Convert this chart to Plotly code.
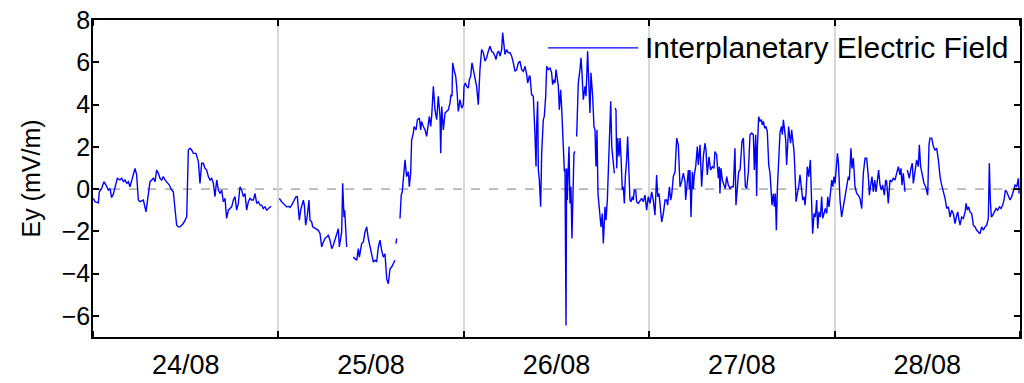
import plotly.graph_objects as go

# Hours since 24/08 00:00 and the dawn-dusk interplanetary electric field Ey (mV/m).
# None marks a data gap.
HOURS = [
    0.04, 0.26, 0.69, 0.82, 1.12, 1.42, 1.68, 1.98, 2.2, 2.41, 2.63, 2.98, 3.15, 3.49, 3.71, 3.93,
    4.14, 4.36, 4.57, 4.79, 5.0, 5.22, 5.44, 5.65, 5.87, 6.08, 6.52, 6.86, 7.16, 7.38, 7.6, 7.81,
    8.03, 8.24, 8.46, 8.67, 8.89, 9.1, 9.32, 9.62, 9.88, 10.18, 10.4, 10.61, 10.83, 11.05, 11.26,
    11.69, 12.13, 12.34, 12.56, 12.77, 12.99, 13.33, 13.51, 13.64, 13.85, 14.07, 14.28, 14.5,
    14.72, 14.93, 15.15, 15.36, 15.58, 15.79, 16.01, 16.23, 16.44, 16.66, 16.87, 17.09, 17.3,
    17.52, 17.73, 17.95, 18.17, 18.38, 18.6, 18.81, 19.03, 19.25, 19.46, 19.68, 19.89, 20.11,
    20.32, 20.54, 20.76, 20.97, 21.19, 21.4, 21.62, 21.83, 22.05, 22.27, 22.48, 22.7, 22.91, 23.04,
    23.5,
    24.12, 24.42, 24.85, 25.07, 25.28, 25.5, 25.72, 25.93, 26.28, 26.45, 26.71, 26.88, 27.1, 27.23,
    27.36, 27.53, 27.75, 27.96, 28.09, 28.31, 28.44, 28.74, 29.17, 29.39, 29.6, 29.82, 30.03,
    30.25, 30.46, 30.68, 30.9, 31.11, 31.33, 31.54, 31.76, 31.89, 32.06, 32.19, 32.32, 32.49,
    32.58, 32.75, 32.84,
    33.3,
    33.7, 33.92, 34.14, 34.35, 34.48, 34.78, 35.0, 35.21, 35.43, 35.64, 35.86, 36.08, 36.29,
    36.51, 36.72, 36.94, 37.15, 37.37, 37.58, 37.8, 38.02, 38.23, 38.45, 38.66, 38.88, 39.09,
    39.15,
    39.22, 39.31,
    39.5,
    39.74, 39.9, 40.03, 40.21, 40.39, 40.6, 40.82, 40.95, 41.12, 41.25, 41.47, 41.56, 41.82,
    41.99, 42.25, 42.42, 42.54, 42.76, 42.98, 43.19, 43.41, 43.54, 43.71, 43.84, 44.06, 44.27,
    44.49, 44.7, 44.92, 45.01, 45.14, 45.35, 45.57, 45.78, 46.0, 46.21, 46.34, 46.47, 46.56,
    46.73, 46.95, 47.08, 47.29, 47.51, 47.72, 47.94, 48.03, 48.2, 48.37, 48.59, 48.72, 48.89,
    49.06, 49.23, 49.45, 49.66, 49.88, 50.09, 50.31, 50.53, 50.74, 50.96, 51.17, 51.39, 51.6,
    51.82, 52.04, 52.16, 52.34, 52.51, 52.69, 52.9, 53.03, 53.2, 53.33, 53.55, 53.76, 53.98,
    54.2, 54.41, 54.63, 54.84, 55.06, 55.27, 55.49, 55.71, 55.92, 56.14, 56.27, 56.48,
    56.57, 56.78, 57.0, 57.22, 57.35, 57.43, 57.56, 57.65, 57.78, 57.95, 58.08, 58.29, 58.42,
    58.6, 58.73, 58.94, 59.16, 59.37, 59.5, 59.68, 59.81, 59.94, 60.11, 60.24, 60.37, 60.54,
    60.67, 60.89, 61.02, 61.1, 61.23, 61.31, 61.4, 61.53, 61.62, 61.74, 61.87, 62.0, 62.13,
    62.26, 62.39,
    62.5,
    62.61, 62.82, 63.04, 63.17, 63.3, 63.47, 63.69, 63.82, 64.03, 64.16, 64.33, 64.46, 64.68,
    64.85, 64.98, 65.11, 65.24, 65.37, 65.5, 65.63, 65.76, 65.93, 66.06, 66.28, 66.41, 66.58,
    66.71, 66.84, 67.02, 67.15, 67.36, 67.49,
    67.55,
    67.58, 67.7, 67.79, 67.92, 68.09, 68.22, 68.35, 68.52, 68.65, 68.78, 68.91, 69.08, 69.21,
    69.39, 69.51, 69.64, 69.82, 69.94, 70.07, 70.25, 70.37, 70.59, 70.81, 71.02, 71.24, 71.45,
    71.67, 71.88, 72.1, 72.32, 72.53, 72.75, 72.96,
    73.1, 73.27, 73.49, 73.62, 73.83, 74.05, 74.26, 74.39, 74.61, 74.78, 74.91, 75.12, 75.34,
    75.56, 75.77, 75.99, 76.2, 76.42, 76.63, 76.72, 76.85, 77.07, 77.2, 77.28, 77.41, 77.59,
    77.71, 77.84, 78.02, 78.23, 78.36, 78.58, 78.79, 79.01, 79.22, 79.35, 79.52, 79.74, 79.95,
    80.17, 80.38, 80.51, 80.73, 80.95, 81.08, 81.16, 81.29, 81.47, 81.68, 81.85, 82.03, 82.24,
    82.46, 82.67, 82.89, 83.1, 83.23, 83.41, 83.58, 83.76, 83.89, 84.01, 84.19, 84.32, 84.45,
    84.62, 84.84, 85.05, 85.27, 85.48, 85.61, 85.79, 85.91, 86.0, 86.17, 86.35, 86.52, 86.65,
    86.78, 86.95, 87.12, 87.29, 87.47, 87.64, 87.77, 87.9, 88.07, 88.2, 88.33, 88.46, 88.59,
    88.76, 88.93, 89.11, 89.24, 89.37, 89.54, 89.67, 89.79, 89.92, 90.05, 90.18, 90.31, 90.44,
    90.57, 90.75, 90.88, 91.01, 91.18, 91.35, 91.52, 91.69, 91.87, 92.04, 92.17, 92.3, 92.47,
    92.65, 92.86, 92.99, 93.16, 93.34, 93.51, 93.68, 93.81, 93.98, 94.16, 94.33, 94.46, 94.63,
    94.8, 94.98, 95.11, 95.28, 95.41, 95.63, 95.76, 95.93, 96.06, 96.19, 96.37, 96.5,
    96.7, 96.91, 97.13, 97.35, 97.56, 97.78, 97.91, 98.12, 98.25, 98.43, 98.64, 98.86, 99.08,
    99.29, 99.51, 99.72, 99.94, 100.15, 100.37, 100.5, 100.67, 100.84, 101.01, 101.19, 101.36,
    101.53, 101.7, 101.88, 102.05, 102.22, 102.44, 102.61, 102.74, 102.95, 103.17, 103.39,
    103.6, 103.82, 104.03, 104.25, 104.46, 104.59, 104.72, 104.89, 105.11,
    105.3,
    105.41, 105.67, 105.88, 106.06, 106.19, 106.41, 106.62, 106.84, 106.97, 107.14, 107.31,
    107.57, 107.79, 108.05, 108.22, 108.35, 108.57, 108.79, 109.0, 109.22, 109.43, 109.65,
    109.86, 110.08, 110.3, 110.51, 110.73, 110.94, 111.16, 111.37, 111.59, 111.81, 111.94,
    112.11, 112.24, 112.45, 112.67, 112.89, 113.02, 113.19, 113.36, 113.53, 113.75, 113.96,
    114.18, 114.4, 114.61, 114.83, 115.04, 115.26, 115.47, 115.69, 115.9, 116.03, 116.16,
    116.29, 116.47, 116.68, 116.9, 117.11, 117.33, 117.55, 117.76, 117.93, 118.11, 118.28,
    118.5, 118.71, 118.93, 119.15, 119.36, 119.58, 119.79, 119.88,
]

EY = [
    -0.44, -0.60, -0.65, -0.13, 0.03, 0.35, 0.19, -0.05, 0.03, -0.40, -0.24, 0.35, 0.51, 0.43, 0.51, 0.35,
    0.43, 0.27, 0.35, 0.11, 0.43, 0.75, 0.98, 0.67, -0.52, -0.60, -0.52, -1.08, -0.36, 0.35, 0.43, 0.51,
    0.35, 0.90, 0.75, 0.51, 0.43, 0.59, 0.43, 0.27, 0.19, -0.05, -0.13, -0.92, -1.71, -1.79, -1.79,
    -1.63, -1.31, 1.85, 1.93, 1.85, 1.69, 1.69, 1.46, 1.30, 0.27, 1.22, 1.22, 0.98,
    0.90, 0.59, 0.43, 0.51, 0.27, -0.36, 0.43, -0.05, -0.21, -0.05, -0.60, -0.44, -1.39,
    -1.00, -0.92, -0.84, -0.52, -0.36, -1.00, -0.68, 0.11, -0.05, -0.36, -0.21, -1.00, -0.60,
    -0.44, -0.52, -0.52, -0.21, -0.68, -0.60, -0.76, -0.76, -0.92, -0.84, -1.00, -0.92, -0.87, -0.81,
    None,
    -0.44, -0.60, -0.76, -0.84, -0.81, -0.87, -0.76, -0.60, -0.36, -0.36, -1.47, -1.00, -0.68, -0.52,
    -0.76, -1.71, -1.24, -0.52, -1.47, -1.55, -1.79, -1.87, -1.95, -2.11, -2.74, -2.50, -2.34,
    -2.27, -2.19, -2.42, -2.82, -2.66, -2.42, -2.11, -1.87, -2.74, -2.27, -2.03, 0.27, -1.32,
    -1.00, -2.66, -2.74,
    None,
    -3.22, -3.29, -3.37, -2.82, -3.22, -2.58, -2.50, -2.03, -1.79, -2.34, -2.74, -3.22, -3.45,
    -3.37, -3.45, -2.74, -2.42, -2.90, -3.22, -3.06, -4.25, -4.48, -3.77, -3.69, -3.53, -3.37,
    None,
    -2.58, -2.34,
    None,
    -1.39, -0.29, -0.13, 0.59, 1.38, 0.59, 0.82, 0.11, 0.75, 2.33, 2.65, 2.96, 2.80,
    3.28, 3.36, 2.80, 3.20, 2.96, 2.80, 2.49, 2.96, 3.44, 2.96, 3.44, 4.86, 3.75,
    3.28, 4.39, 3.44, 1.70, 3.91, 2.80, 3.60, 3.67, 3.75, 4.07, 4.47, 4.39, 5.97,
    5.65, 5.34, 4.86, 3.67, 4.23, 3.83, 3.99, 4.86, 5.02, 4.86, 4.78, 5.18, 5.34,
    5.97, 5.65, 5.26, 4.86, 3.99, 5.65, 6.60, 6.45, 6.05, 6.21, 6.52, 6.76, 6.52,
    6.45, 6.29, 6.13, 6.45, 6.52, 6.29, 6.60, 7.40, 6.76, 6.37, 6.60, 6.45, 6.45,
    6.29, 5.97, 5.57, 5.65, 5.97, 6.05, 5.65, 5.57, 5.81, 5.42, 5.02, 5.34,
    5.34, 4.47, 4.39, 2.49, 1.07, 2.96, 4.15, 0.90, 0.43, -0.84, 1.70, 3.28, 3.44,
    4.39, 5.81, 5.65, 5.73, 5.50, 4.94, 5.18, 5.02, 5.65, 5.02, 4.86, 3.75, 4.70,
    3.83, 1.93, 0.82, 0.97, -6.46, 0.97, -0.52, 1.07, 2.01, -0.68, 0.11, -2.34, -0.36,
    1.70, 1.78,
    None,
    2.49, 5.02, 5.65, 6.21, 5.50, 4.23, 4.86, 4.39, 6.52, 5.18, 3.60, 5.50, 4.39,
    2.96, 2.80, 1.07, 2.80, -0.21, -0.68, -1.31, -1.79, -1.16, -2.58, -0.84, -1.47, -0.52,
    0.90, 2.49, 4.15, 2.01, 1.07, 0.75,
    None,
    3.83, 3.75, 0.98, 2.41, 1.54, 2.41, 1.54, -0.05, 0.11, -0.68, 0.59, 1.38, 2.49,
    0.59, -0.52, -0.60, -0.36, -0.52, -0.05, -0.05, -0.60, -0.68, -0.52, -0.44, -0.60, -0.29,
    -1.00, -0.36, -0.68, -0.13, -0.52, -1.24, 0.67,
    -0.36, -0.21, -1.00, -1.55, -1.16, -0.52, -0.52, -0.76, 0.11, -0.52, -0.29, 0.59, 0.82,
    2.41, 2.09, 0.11, 0.35, 0.75, 0.35, -0.52, 0.03, 0.90, 0.00, 0.90, -1.32, 0.82,
    0.00, 0.67, 1.06, 2.01, 1.14, 2.09, 0.11, 1.53, 2.17, 1.85, 0.67, 1.53, 0.90,
    1.06, 0.98, 1.77, 1.62, 0.51, 1.06, -0.21, 0.98, 0.43, 0.19, 0.03, 0.59, 0.19,
    0.03, 0.11, 0.11, 1.93, -0.76, 0.00, 0.82, 0.90, 1.53, 2.25, 2.41, 1.53, 0.11,
    0.03, 0.82, 2.57, 2.65, 2.57, 0.90, 2.57, -0.33, 1.93, 3.43, 3.20, 3.28, 3.04,
    3.20, 2.88, 2.96, 2.72, 1.14, 0.75, -0.36, -0.76, -0.21, -0.84, -0.21, -1.95, 0.00,
    1.85, 2.65, 2.96, 2.57, 3.28, 2.65, 2.33, 1.14, 2.25, 2.96, 2.49, 2.17, 2.80,
    2.33, 1.77, 0.75, -0.60, -0.21, 0.11, 0.67, 0.03, -0.52, -0.36, -0.76, -0.21, 1.06,
    0.59, 1.38, -0.21, -2.11, -1.16, -1.32, -0.52, -1.87, -1.08, -1.32, -0.36, -1.39, -1.16,
    -0.92, -1.16, -0.36, -0.84, -0.36, 0.43, 0.11, 0.59, 0.27, 1.06, 1.69, 1.22,
    -0.52, -1.32, -0.84, -0.29, 0.27, 0.59, 0.43, 1.93, 0.98, 1.46, 0.11, -0.21, -0.29,
    -0.44, -0.92, 0.75, 1.46, 1.46, 0.59, -0.29, 0.19, 0.59, -0.13, 0.43, -0.13,
    0.35, 0.90, 0.19, -0.05, 0.19, -0.29, 0.43, 0.35, -0.68, 0.43, 0.35,
    0.51, 0.43, 0.82, 1.06, 0.67, 0.98, 0.19, 0.75, -0.13,
    None,
    0.90, 0.51, 0.98, 1.22, 0.27, 0.98, 1.38, 1.06, 2.09, 1.06, 0.75,
    0.27, 0.11, -0.29, 2.09, 2.41, 2.41, 2.01, 1.85, 1.93, 1.38, 0.59,
    0.19, -0.13, -0.44, -0.92, -0.84, -1.32, -1.00, -1.16, -1.63, -1.24, -1.08,
    -1.47, -1.71, -1.32, -1.39, -1.08, -0.68, -1.00, -0.84, -1.08, -1.16, -1.71,
    -1.79, -1.95, -2.03, -2.11, -1.79, -1.95, -1.79, -1.71, -1.39, 1.22, -0.52,
    -1.32, -1.24, -1.08, -0.92, -1.00, -0.84, -0.92, -0.76, -0.52, -0.05, -0.13,
    -0.29, -0.52, -0.36, -0.05, 0.19, 0.11, 0.51, -0.21,
]

DAY_LABELS = ["24/08", "25/08", "26/08", "27/08", "28/08"]
DAY_CENTRES = [12, 36, 60, 84, 108]
Y_TICKS = [-6, -4, -2, 0, 2, 4, 6, 8]

FONT = "Liberation Sans, Arial, sans-serif"

fig = go.Figure()
fig.add_trace(go.Scatter(
    x=HOURS, y=EY, mode="lines", connectgaps=False,
    line=dict(color="#0000ff", width=1.4),
    name="Interplanetary Electric Field", showlegend=False,
))

# zero reference line
fig.add_hline(y=0, line=dict(color="#7f7f7f", width=1, dash="dash"), layer="below")

# legend sample drawn by hand so the line segment can be long
fig.add_shape(type="line", xref="paper", yref="paper",
              x0=0.491, x1=0.588, y0=0.912, y1=0.912,
              line=dict(color="#0000ff", width=1.4))
fig.add_annotation(xref="paper", yref="paper", x=0.5935, y=0.912,
                   xanchor="left", yanchor="middle", showarrow=False,
                   text="Interplanetary Electric Field",
                   font=dict(family=FONT, size=30, color="black"))

fig.update_layout(
    width=1024, height=383,
    margin=dict(l=93, r=4, t=20, b=46),
    paper_bgcolor="white", plot_bgcolor="white",
    font=dict(family=FONT, size=25, color="black"),
    xaxis=dict(
        range=[0, 120], tickmode="array", tickvals=DAY_CENTRES, ticktext=DAY_LABELS,
        ticks="", showgrid=False, zeroline=False, automargin=False,
        showline=True, linecolor="black", linewidth=1.5, mirror="ticks",
        tickfont=dict(family=FONT, size=27),
        ticklabelstandoff=3,
        minor=dict(tick0=0, dtick=24, ticks="inside", ticklen=6, tickcolor="black",
                   tickwidth=1.5, showgrid=True, gridcolor="#d9d9d9", gridwidth=2),
    ),
    yaxis=dict(
        range=[-7, 8], tickmode="array", tickvals=Y_TICKS,
        ticks="inside", ticklen=6, tickwidth=1.5, tickcolor="black",
        showgrid=False, zeroline=False, automargin=False,
        showline=True, linecolor="black", linewidth=1.5, mirror="ticks",
        title=dict(text="Ey (mV/m)", font=dict(family=FONT, size=25), standoff=14),
        tickfont=dict(family=FONT, size=25),
        ticklabelstandoff=-4,
    ),
)

fig.write_html("out.html")
